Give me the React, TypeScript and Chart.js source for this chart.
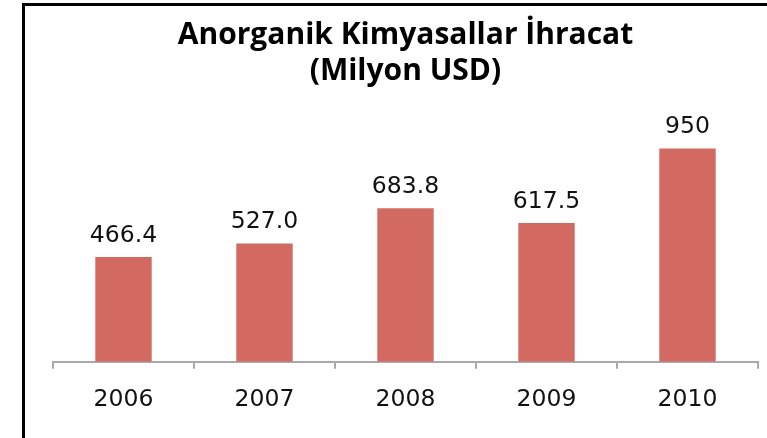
import React, { useEffect, useRef } from "react";
import { Chart, registerables } from "chart.js";

Chart.register(...registerables);

const categories = ["2006", "2007", "2008", "2009", "2010"];
const values = [466.4, 527.0, 683.8, 617.5, 950];
const valueLabels = ["466.4", "527.0", "683.8", "617.5", "950"];
const titleLines = ["Anorganik Kimyasallar İhracat", "(Milyon USD)"];

const BAR_COLOR = "#D26A62";
const AXIS_COLOR = "#A9A9A9";

const valueLabelPlugin = {
  id: "valueLabels",
  afterDatasetsDraw(chart: any) {
    const ctx = chart.ctx;
    const meta = chart.getDatasetMeta(0);
    ctx.save();
    ctx.font = "23.5px 'DejaVu Sans'";
    ctx.fillStyle = "#111111";
    ctx.textAlign = "center";
    ctx.textBaseline = "alphabetic";
    meta.data.forEach((bar: any, i: number) => {
      ctx.fillText(valueLabels[i], bar.x, bar.y - 15);
    });
    ctx.restore();
  },
};

export default function App() {
  const ref = useRef<HTMLCanvasElement | null>(null);
  useEffect(() => {
    if (!ref.current) return;
    const chart = new Chart(ref.current, {
      type: "bar",
      data: {
        labels: categories,
        datasets: [
          {
            data: values,
            backgroundColor: BAR_COLOR,
            borderWidth: 0,
            categoryPercentage: 1,
            barPercentage: 0.4,
          },
        ],
      },
      options: {
        animation: false,
        responsive: false,
        maintainAspectRatio: false,
        layout: { padding: { left: 53, right: 9, top: 0, bottom: 7 } },
        plugins: {
          legend: { display: false },
          tooltip: { enabled: false },
          title: {
            display: true,
            text: titleLines,
            color: "#000000",
            font: { family: "Open Sans", size: 30, weight: "bold", lineHeight: 1.22 },
            padding: { top: 17, bottom: 47 },
          },
        },
        scales: {
          x: {
            grid: {
              display: true,
              offset: true,
              drawOnChartArea: false,
              drawTicks: true,
              tickLength: 7,
              color: AXIS_COLOR,
              lineWidth: 2,
            },
            border: { display: true, color: AXIS_COLOR, width: 2 },
            ticks: {
              color: "#111111",
              font: { family: "DejaVu Sans", size: 23.5 },
              padding: 17,
            },
          },
          y: {
            display: false,
            min: 0,
            max: 1000,
          },
        },
      },
      plugins: [valueLabelPlugin],
    });
    return () => chart.destroy();
  }, []);

  return (
    <div style={{ position: "absolute", left: 0, top: 0, width: 767, height: 438, background: "#ffffff", overflow: "hidden" }}>
      <div
        style={{
          position: "absolute",
          left: 22,
          top: 3,
          width: 800,
          height: 500,
          borderLeft: "3px solid #000",
          borderTop: "3px solid #000",
        }}
      />
      <canvas ref={ref} width={767} height={438} style={{ position: "absolute", left: 0, top: 0 }} />
    </div>
  );
}
